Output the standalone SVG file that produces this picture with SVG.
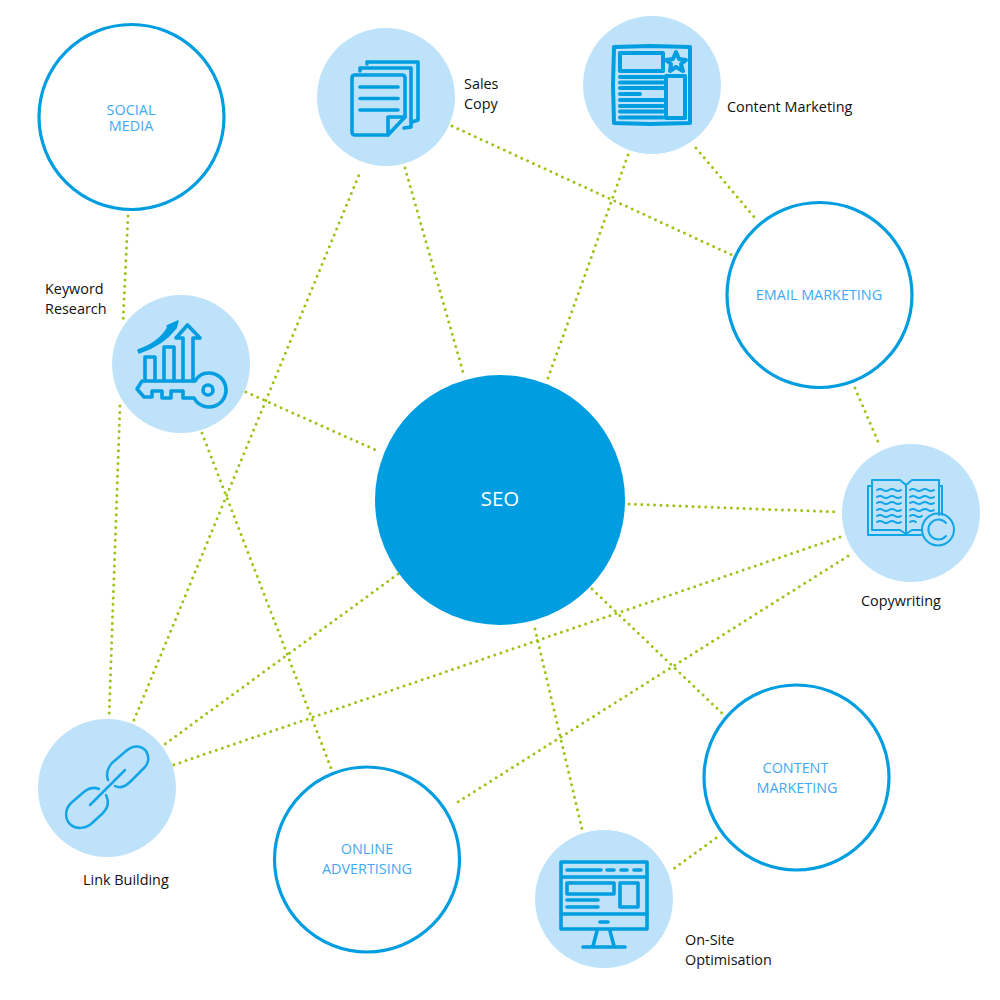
<svg xmlns="http://www.w3.org/2000/svg" width="1000" height="1000" viewBox="0 0 1000 1000">
<style>
text{font-family:"Open Sans","Noto Sans",sans-serif}
.lbl{font-size:14.4px;fill:#111}
.ring{fill:#fff;stroke:#009ee0;stroke-width:3.2}
.ringt{font-size:14.4px;fill:#3fa9f5;text-anchor:middle}
.pale{fill:#bfe2fb}
.ic{fill:none;stroke:#009ee0;stroke-width:3.6;stroke-linecap:round;stroke-linejoin:round}
.ict{fill:none;stroke:#12a5e8;stroke-width:2;stroke-linecap:round;stroke-linejoin:round}
#connectors line{stroke:#9cc315;stroke-width:3;stroke-linecap:round;stroke-dasharray:0 6.4}
</style>
<rect width="1000" height="1000" fill="#fff"/>
<g id="connectors">
<line x1="128" y1="216" x2="123" y2="322"/>
<line x1="120" y1="406" x2="109" y2="718"/>
<line x1="134" y1="720" x2="361" y2="170"/>
<line x1="405" y1="168" x2="463" y2="372"/>
<line x1="452" y1="126" x2="732" y2="255"/>
<line x1="628" y1="155" x2="548" y2="378"/>
<line x1="696" y1="148" x2="755" y2="218"/>
<line x1="855" y1="388" x2="880" y2="446"/>
<line x1="246" y1="392" x2="378" y2="451"/>
<line x1="202" y1="433" x2="331" y2="768"/>
<line x1="629" y1="504" x2="838" y2="512"/>
<line x1="398" y1="574" x2="165" y2="744"/>
<line x1="840" y1="537" x2="173" y2="765"/>
<line x1="848" y1="556" x2="453" y2="805"/>
<line x1="592" y1="589" x2="725" y2="716"/>
<line x1="535" y1="629" x2="582" y2="829"/>
<line x1="716" y1="838" x2="672" y2="870"/>
</g>
<g id="seo">
<circle cx="500" cy="500" r="125" fill="#009ee0"/>
<text x="500" y="506" font-size="20.5" fill="#fff" text-anchor="middle">SEO</text>
</g>
<g id="social-media">
<circle class="ring" cx="131.500" cy="117" r="92.500"/>
<text class="ringt"><tspan x="131" y="115">SOCIAL</tspan><tspan x="131" y="131">MEDIA</tspan></text>
</g>
<g id="email-marketing">
<circle class="ring" cx="819.500" cy="295" r="92.500"/>
<text class="ringt" x="819" y="300">EMAIL MARKETING</text>
</g>
<g id="content-marketing-ring">
<circle class="ring" cx="796.500" cy="777.500" r="92.500"/>
<text class="ringt"><tspan x="795.500" y="773">CONTENT</tspan><tspan x="797" y="793">MARKETING</tspan></text>
</g>
<g id="online-advertising">
<circle class="ring" cx="367" cy="859.500" r="92.500"/>
<text class="ringt"><tspan x="367" y="854">ONLINE</tspan><tspan x="367" y="874">ADVERTISING</tspan></text>
</g>
<g id="sales-copy">
<circle class="pale" cx="386" cy="97" r="69"/>
<path class="ic" d="M367 64V62H418V120L412 122M360 71V68H411V127L404 128"/>
<path class="ic" d="M352 78Q352 75 355 75H402Q405 75 405 78V117L388 135H355Q352 135 352 132Z" fill="#bfe2fb"/>
<path class="ic" d="M405 117H388V135M360 87H398M360 98.500H398M360 110H398"/>
<text class="lbl"><tspan x="464" y="89">Sales</tspan><tspan x="464" y="109">Copy</tspan></text>
</g>
<g id="content-marketing">
<circle class="pale" cx="652" cy="85" r="69"/>
<g class="ic" style="stroke-width:4">
<path d="M614 47L650 46 690 47 690 85 690 123 650 124 614 123 613 85Z"/>
<rect x="620" y="53" width="43" height="18"/>
<rect x="666" y="76" width="19" height="42"/>
<path d="M620 77H663M620 82.500H663M620 88H663M620 94H640M620 100H663M620 106H663M620 111.500H663M620 117.500H663"/>
<path d="M676 52L679 59 686 60 681 64 683 71 676 67 670 71 671 64 666 60 673 59Z"/>
</g>
<text class="lbl" x="727" y="112">Content Marketing</text>
</g>
<g id="keyword-research">
<circle class="pale" cx="181" cy="364" r="69"/>
<path d="M138 350Q160 342 168 327L167 326 178 321 176 328Q163 345 139 353Z" fill="#009ee0" stroke="#009ee0" stroke-linejoin="round" stroke-linecap="round" stroke-width="1.500"/>
<path class="ic" d="M145 381V357H155V381M164 381V347H174V381M183 381V338H176L187.500 325 200 338H193V381"/>
<path class="ic" d="M142 381H195Q200 373 208 373A17 17 0 1 1 194 398H183V391H171V398H162V391H152V397H144L137 389Z"/>
<circle class="ic" cx="208" cy="390" r="5"/>
<text class="lbl"><tspan x="45" y="294">Keyword</tspan><tspan x="45" y="314">Research</tspan></text>
</g>
<g id="copywriting">
<circle class="pale" cx="911" cy="513" r="69"/>
<g class="ict">
<path d="M872 486H868V535H921M940 486H942V515"/>
<path d="M872 480H900L906 485 912 480H939V515M872 480V530H900L906 534 912 530H921M906 485V534"/>
<path d="M877 490q3-2 6 0t6 0 6 0 6 0M877 497q3-2 6 0t6 0 6 0 6 0M877 503q3-2 6 0t6 0 6 0 6 0M877 510q3-2 6 0t6 0 6 0 6 0M877 516q3-2 6 0t6 0 6 0 6 0M877 522q3-2 6 0t6 0 6 0 6 0M910 490q3-2 6 0t6 0 6 0 6 0M910 497q3-2 6 0t6 0 6 0 6 0M910 503q3-2 6 0t6 0 6 0 6 0M910 510q3-2 6 0t6 0 6 0 6 0M910 516q3-2 6 0t6 0M910 522q3-2 6 0"/>
<circle cx="938" cy="529.500" r="16"/>
<path d="M946 523A10 10 0 1 0 946 536"/>
</g>
<text class="lbl" x="861" y="606">Copywriting</text>
</g>
<g id="link-building">
<circle class="pale" cx="107" cy="788" r="69"/>
<g class="ict" style="stroke-width:2.500">
<path d="M108 780Q105 771 112 763L126 751C134 744 142 746 146 751 149 756 149 762 145 767L131 781Q122 790 115 786"/>
<path d="M99 789Q92 786 85 791L71 803C64 810 65 820 71 825 76 829 85 829 91 824L103 813Q111 805 106 795"/>
<path d="M90 805L125 770"/>
</g>
<text class="lbl" x="83" y="885">Link Building</text>
</g>
<g id="on-site">
<circle class="pale" cx="604" cy="899" r="69"/>
<g class="ic">
<rect x="561" y="862" width="86" height="67"/>
<path d="M561 877H647M561 914H647M567 870H601M607 870H614M621 870H627M634 870H641M567 900H598M567 907H598M600 922H608M597 931L593 946M610 931L614 946M583 947H625"/>
<rect x="567" y="883" width="47" height="11"/>
<rect x="620" y="883" width="18" height="24"/>
</g>
<text class="lbl"><tspan x="685" y="945">On-Site</tspan><tspan x="685" y="965">Optimisation</tspan></text>
</g>
</svg>
